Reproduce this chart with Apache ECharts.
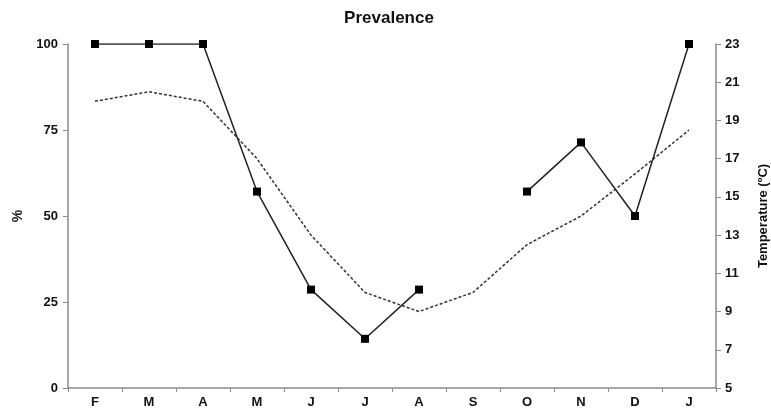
<!DOCTYPE html>
<html>
<head>
<meta charset="utf-8">
<script src="https://cdn.jsdelivr.net/npm/echarts@6/dist/echarts.min.js"></script>
<style>html,body{margin:0;padding:0;background:#fff}#c{width:771px;height:418px}</style>
</head>
<body>
<div id="c"></div>
<script>
const months = ['F','M','A','M','J','J','A','S','O','N','D','J'];
const prevalence = [100, 100, 100, 57.1, 28.6, 14.3, 28.6, null, 57.1, 71.4, 50, 100];
const temperature = [20, 20.5, 20, 17, 13, 10, 9, 10, 12.5, 14, 16.2, 18.5];
const leftTicks = [0, 25, 50, 75, 100];
const rightTicks = [5, 7, 9, 11, 13, 15, 17, 19, 21, 23];

const font = 'Liberation Sans, Arial, sans-serif';
const axisLine = {show: true, lineStyle: {color: '#8a8a8a', width: 1.5}};
const axisTick = {show: true, length: 5, lineStyle: {color: '#8a8a8a', width: 1}};
const chart = echarts.init(document.getElementById('c'), null, {renderer: 'canvas'});
chart.setOption({
  animation: false,
  backgroundColor: '#fff',
  title: {
    text: 'Prevalence', left: 384, top: 5, textAlign: 'center',
    textStyle: {fontFamily: font, fontWeight: 'bold', fontSize: 17, color: '#111'}
  },
  grid: {left: 68, right: 55, top: 44, bottom: 30, containLabel: false, outerBoundsMode: 'none'},
  xAxis: {
    type: 'category', data: months, boundaryGap: true,
    axisLine: axisLine,
    axisTick: {show: true, length: 4, inside: false, lineStyle: {color: '#8a8a8a'}},
    axisLabel: {fontFamily: font, fontWeight: 'bold', fontSize: 13, color: '#111', margin: 8},
    splitLine: {show: false}
  },
  yAxis: [
    {
      type: 'value', min: leftTicks[0], max: leftTicks[leftTicks.length - 1], interval: 25,
      name: '%', nameLocation: 'middle', nameGap: 42, nameRotate: 90,
      nameTextStyle: {fontFamily: font, fontWeight: 'bold', fontSize: 14, color: '#111'},
      axisLine: axisLine, axisTick: axisTick,
      axisLabel: {fontFamily: font, fontWeight: 'bold', fontSize: 13, color: '#111', margin: 10},
      splitLine: {show: false}
    },
    {
      type: 'value', min: rightTicks[0], max: rightTicks[rightTicks.length - 1], interval: 2,
      position: 'right',
      name: 'Temperature (ºC)', nameLocation: 'middle', nameGap: 41, nameRotate: 90,
      nameTextStyle: {fontFamily: font, fontWeight: 'bold', fontSize: 13, color: '#111'},
      axisLine: axisLine, axisTick: axisTick,
      axisLabel: {fontFamily: font, fontWeight: 'bold', fontSize: 13, color: '#111', margin: 9},
      splitLine: {show: false}
    }
  ],
  series: [
    {
      name: 'Prevalence', type: 'line', yAxisIndex: 0, data: prevalence,
      connectNulls: false,
      symbol: 'rect', symbolSize: 8, showAllSymbol: true,
      itemStyle: {color: '#000'},
      lineStyle: {color: '#222', width: 1.5}
    },
    {
      name: 'Temperature', type: 'line', yAxisIndex: 1, data: temperature,
      symbol: 'none',
      lineStyle: {color: '#333', width: 1.5, type: [3, 2]}
    }
  ]
});
</script>
</body>
</html>
